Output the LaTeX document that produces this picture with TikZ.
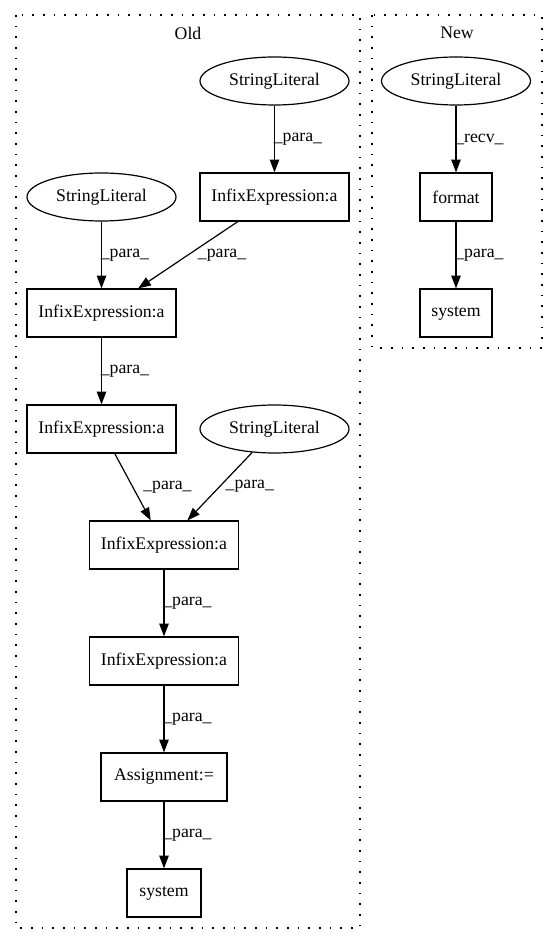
\documentclass[tikz,border=0pt]{standalone}
\usepackage{fontspec}
\setmainfont{Liberation Serif}
\usetikzlibrary{shapes.geometric,arrows.meta}
\begin{document}
\begin{tikzpicture}[x=0.75pt,y=-0.75pt,
  every node/.style={font=\fontsize{13.3}{16}\selectfont},
  box/.style={draw,line width=0.9pt,rectangle,minimum height=36pt,inner sep=0pt},
  infix/.style={box,minimum width=111.75pt},
  lit/.style={draw,line width=0.9pt,ellipse,minimum width=111.75pt,minimum height=36pt,inner sep=0pt},
  edge/.style={draw,line width=0.9pt,-{Triangle[length=9.5pt,width=7pt]}},
  lbl/.style={anchor=west,inner sep=0pt},
  cluster/.style={draw,line width=0.9pt,dash pattern=on 1.2pt off 6.8pt}]
\useasboundingbox (0,0) rectangle (557,944);
% clusters
\draw[cluster] (16,15) rectangle (360,928);
\draw[cluster] (372,15) rectangle (542,348);
\node (oldlbl) at (188,33) {Old};
\node (newlbl) at (457,33) {New};
% Old nodes
\node[lit] (sl1) at (274.5,81) {StringLiteral};
\node[infix] (i1) at (274.5,197) {InfixExpression:a};
\node[lit] (sl2) at (101.5,197) {StringLiteral};
\node[infix] (i2) at (101.5,313) {InfixExpression:a};
\node[infix] (i3) at (101.5,429) {InfixExpression:a};
\node[lit] (sl3) at (274.5,429) {StringLiteral};
\node[infix] (i4) at (164,545) {InfixExpression:a};
\node[infix] (i5) at (164,661) {InfixExpression:a};
\node[box,minimum width=94.5pt] (asg) at (164,777) {Assignment:=};
\node[box,minimum width=55.5pt] (sys) at (164,893) {system};
% New nodes
\node[lit] (nsl) at (456,81) {StringLiteral};
\node[box,minimum width=54pt] (fmt) at (456,197) {format};
\node[box,minimum width=54pt] (nsys) at (456,313) {system};
% Old edges
\draw[edge] (sl1) -- node[lbl,midway,xshift=-1pt] {\_para\_} (i1);
\draw[edge] (sl2) -- node[lbl,midway,xshift=-1pt] {\_para\_} (i2);
\draw[edge] (i1) -- node[lbl,midway,xshift=7pt] {\_para\_} (i2);
\draw[edge] (i2) -- node[lbl,midway,xshift=-1pt] {\_para\_} (i3);
\draw[edge] (i3) -- node[lbl,midway,xshift=7.5pt] {\_para\_} (i4);
\draw[edge] (sl3) -- node[lbl,midway,xshift=4pt] {\_para\_} (i4);
\draw[edge] (i4) -- node[lbl,midway,xshift=-1pt] {\_para\_} (i5);
\draw[edge] (i5) -- node[lbl,midway,xshift=-1pt] {\_para\_} (asg);
\draw[edge] (asg) -- node[lbl,midway,xshift=-1pt] {\_para\_} (sys);
% New edges
\draw[edge] (nsl) -- node[lbl,midway,xshift=-1pt] {\_recv\_} (fmt);
\draw[edge] (fmt) -- node[lbl,midway,xshift=-1pt] {\_para\_} (nsys);
\end{tikzpicture}
\end{document}
